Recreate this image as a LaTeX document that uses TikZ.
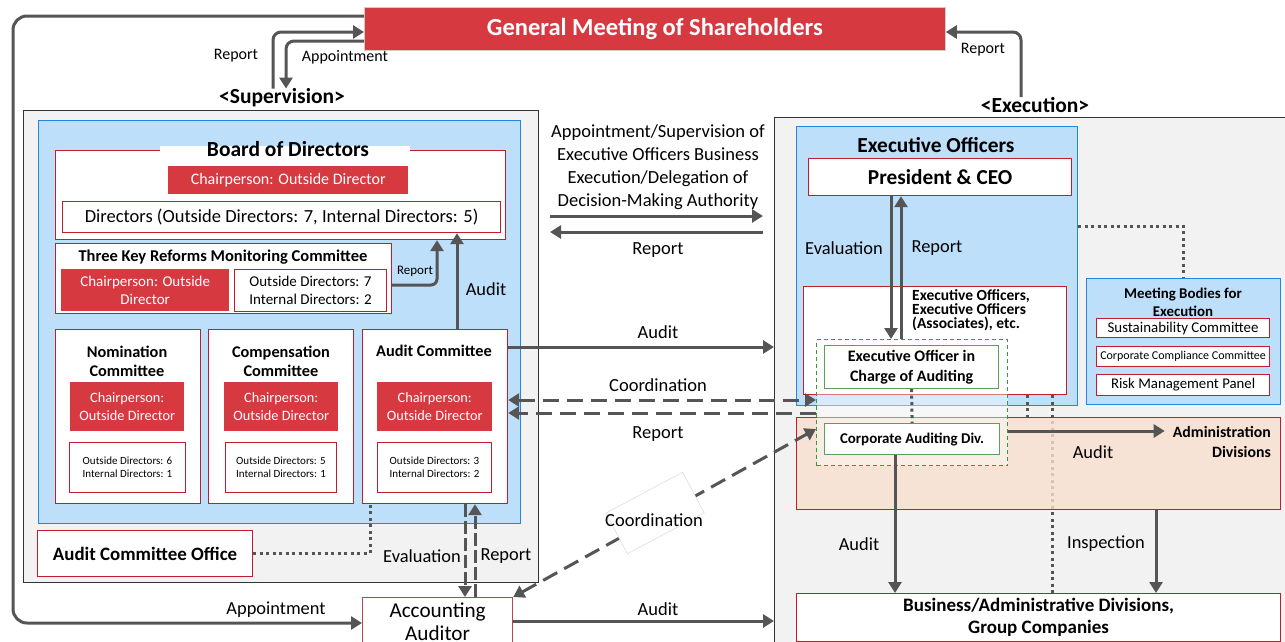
\documentclass[tikz,border=0pt]{standalone}
\usepackage{fontspec}
\setmainfont{Carlito}
\usetikzlibrary{arrows.meta}

\definecolor{gmred}{RGB}{214,57,64}
\definecolor{redline}{RGB}{192,30,45}
\definecolor{aaline}{RGB}{180,70,80}
\definecolor{bluefill}{RGB}{189,223,250}
\definecolor{blueline}{RGB}{35,135,225}
\definecolor{panelgray}{RGB}{242,242,242}
\definecolor{peach}{RGB}{249,223,207}
\definecolor{arrgray}{RGB}{85,85,85}
\definecolor{grnline}{RGB}{90,160,90}
\definecolor{grndash}{RGB}{60,150,60}

% font size with explicit leading
\newcommand{\fsz}[2]{\fontsize{#1}{#2}\selectfont}
% rectangle node given by its corners: \bx[style]{name}{x1}{y1}{x2}{y2}{text}
\newcommand{\bx}[7][]{\node[#1, anchor=north west, minimum width=#5pt-#3pt, minimum height=#6pt-#4pt] (#2) at (#3,#4) {#7};}

\tikzset{
  panel/.style={fill=panelgray, draw=black!80, line width=1.3pt},
  bluebox/.style={fill=bluefill, draw=blueline, line width=1.2pt},
  redbox/.style={fill=gmred, draw=none, text=white, align=center, inner sep=0pt},
  gmbox/.style={fill=gmred, draw=black!20, line width=0.8pt, text=white, align=center, inner sep=0pt},
  wbox/.style={fill=white, draw=redline, line width=1.2pt, align=center, inner sep=0pt},
  gbox/.style={fill=white, draw=grnline, line width=1.2pt, align=center, inner sep=0pt},
  peachbox/.style={fill=peach, fill opacity=0.8, draw=redline, line width=1.2pt},
  gdash/.style={fill=white, fill opacity=0.4, draw=grndash, line width=1.2pt, dash pattern=on 4pt off 3pt},
  lab/.style={inner sep=0pt, text=black, align=center},
  arr/.style={draw=arrgray, line width=3pt, rounded corners=8pt, -{Triangle[length=11pt,width=13pt]}},
  darr/.style={arr, dash pattern=on 16pt off 8pt},
  earr/.style={arr, dash pattern=on 13pt off 4pt},
  dots/.style={draw=arrgray, line width=3pt, dash pattern=on 3pt off 3.5pt},
}

\begin{document}
\begin{tikzpicture}[x=1pt,y=-1pt]
\useasboundingbox (0,0) rectangle (1285,641);
\clip (0,0) rectangle (1285,641);
\fill[white] (0,0) rectangle (1285,641);

% ---------- panels and headings ----------
\bx[panel]{sup}{23}{110}{538}{582}{}
\bx[panel]{exe}{774}{117}{1300}{660}{}
\node[lab, font=\fsz{21.5}{24}\bfseries] (suplab) at (282,98) {<Supervision>};
\node[lab, font=\fsz{21.5}{24}\bfseries] (exelab) at (1035,105) {<Execution>};
\bx[gmbox, font=\fsz{24.5}{28}\bfseries]{gm}{364}{7}{945}{50}{General Meeting of Shareholders}

% ---------- supervision side ----------
\bx[bluebox]{supblue}{38}{120}{520}{523}{}
\bx[wbox]{board}{55}{150}{505}{239}{}
\node[fill=white, inner sep=0pt, minimum width=250pt, minimum height=6pt] (boardgap) at (285,149) {};
\node[lab, font=\fsz{21.5}{24}\bfseries] (boardt) at (288,149) {Board of Directors};
\bx[redbox, font=\fsz{16}{19}]{bchair}{168}{166}{408}{194}{Chairperson: Outside Director}
\bx[wbox, font=\fsz{18.5}{21}]{bdirs}{62}{201}{500}{232}{Directors (Outside Directors: 7, Internal Directors: 5)}

\bx[wbox]{tkr}{55}{243}{391}{313}{}
\node[lab, font=\fsz{16.5}{19}\bfseries] (tkrt) at (223,257) {Three Key Reforms Monitoring Committee};
\bx[redbox, font=\fsz{15}{18}]{tkrchair}{61}{269}{229}{311}{Chairperson: Outside\\Director}
\bx[wbox, line width=1pt, font=\fsz{15}{18}]{tkrmem}{234}{269}{386}{311}{Outside Directors: 7\\Internal Directors: 2}

\bx[wbox]{nom}{55}{329}{200}{503}{}
\node[lab, font=\fsz{16.3}{19}\bfseries] (nomt) at (127,361) {Nomination\\Committee};
\bx[redbox, font=\fsz{14.3}{18}]{nomchair}{70}{382}{184}{431}{Chairperson:\\Outside Director}
\bx[wbox, line width=1pt, font=\fsz{11}{13}]{nommem}{69}{442}{185}{492}{Outside Directors: 6\\Internal Directors: 1}

\bx[wbox]{comp}{208}{329}{353}{503}{}
\node[lab, font=\fsz{16.3}{19}\bfseries] (compt) at (281,361) {Compensation\\Committee};
\bx[redbox, font=\fsz{14.3}{18}]{compchair}{224}{382}{338}{431}{Chairperson:\\Outside Director}
\bx[wbox, line width=1pt, font=\fsz{11}{13}]{compmem}{225}{442}{336}{492}{Outside Directors: 5\\Internal Directors: 1}

\bx[wbox]{aud}{362}{329}{507}{503}{}
\node[lab, font=\fsz{16.3}{19}\bfseries] (audt) at (434,351) {Audit Committee};
\bx[redbox, font=\fsz{14.3}{18}]{audchair}{377}{382}{492}{431}{Chairperson:\\Outside Director}
\bx[wbox, line width=1pt, font=\fsz{11}{13}]{audmem}{377}{442}{491}{492}{Outside Directors: 3\\Internal Directors: 2}

\bx[wbox, font=\fsz{18.9}{22}\bfseries]{aco}{37}{530}{252}{576}{Audit Committee Office}
\bx[wbox, draw=aaline, font=\fsz{21.2}{23.5}]{aa}{362}{597}{512}{645}{Accounting\\Auditor}

% ---------- execution side ----------
\bx[bluebox]{eo}{796}{126}{1077}{405}{}
\node[lab, font=\fsz{21.4}{24}\bfseries] (eot) at (936,145) {Executive Officers};
\bx[wbox, font=\fsz{21.3}{24}\bfseries]{ceo}{808}{158}{1071}{195}{President \& CEO}
\bx[wbox]{eoetc}{803}{286}{1066}{394}{}
\node[lab, align=left, anchor=west, font=\fsz{15.5}{14}\bfseries] (eoetct) at (912,310) {Executive Officers,\\Executive Officers\\(Associates), etc.};

\bx[bluebox]{mb}{1086}{278}{1280}{404}{}
\node[lab, font=\fsz{14.9}{18}\bfseries] (mbt) at (1183,302) {Meeting Bodies for\\Execution};
\bx[wbox, font=\fsz{14.9}{17}]{sus}{1096}{318}{1269}{337}{Sustainability Committee}
\bx[wbox, font=\fsz{12}{14}]{ccc}{1096}{346}{1269}{366}{Corporate Compliance Committee}
\bx[wbox, font=\fsz{14.8}{17}]{risk}{1096}{374}{1269}{395}{Risk Management Panel}

% dotted links (drawn before the translucent divisions box)
\coordinate (admtopL) at (1027,417);
\coordinate (biztopD) at (1052,593);
\draw[dots] (eo.east |- 0,226) -| (mb.north);
\draw[dots] (eoetc.south -| admtopL) -- (admtopL);
\draw[dots] (eoetc.south -| biztopD) -- (biztopD);

\bx[peachbox]{adm}{796}{417}{1280}{509}{}
\node[lab, align=right, anchor=east, font=\fsz{15.8}{20}\bfseries] (admt) at (1271,442) {Administration\\Divisions};

\bx[gdash]{audgrp}{816}{339}{1007}{465}{}
\bx[gbox, font=\fsz{16}{20}\bfseries]{eoaud}{824}{345}{998}{388}{Executive Officer in\\Charge of Auditing}
\bx[gbox, font=\fsz{14.9}{17}\bfseries]{cad}{824}{423}{999}{454}{Corporate Auditing Div.}
\draw[dots] (eoaud.south) -- (cad.north);

\bx[wbox, font=\fsz{19}{22}\bfseries]{biz}{796}{593}{1280}{641}{Business/Administrative Divisions,\\Group Companies}

% ---------- connectors ----------
% shareholders' meeting
\draw[arr, rounded corners=14pt] (gm.west |- 0,16) -- (13,16) -- (13,623) -- (aa.west |- 0,623);
\draw[arr] (273,0 |- suplab.north) |- (gm.west |- 0,32);
\draw[arr] (gm.west |- 0,41) -| (286,0 |- suplab.north);
\draw[arr] (1021,0 |- exelab.north) |- (gm.east |- 0,32);
\node[lab, font=\fsz{16}{19}] (lrep1) at (236,56) {Report};
\node[lab, font=\fsz{16}{19}] (lapp1) at (345,57) {Appointment};
\node[lab, font=\fsz{16}{19}] (lrep2) at (983,50) {Report};

% inside the board
\draw[arr, rounded corners=6pt] (tkr.east |- 0,285) -| (437,0 |- board.south);
\node[lab, font=\fsz{13}{15}] (lrep3) at (415,271) {Report};
\draw[arr] (aud.north -| 457,0) -- (457,0 |- bdirs.south);
\node[lab, font=\fsz{18.4}{21}] (laud1) at (486,289) {Audit};

% audit committee office and accounting auditor
\draw[dots] (aco.east) -| (aud.south -| 370,0);
\draw[earr] (aud.south -| 465,0) -- (465,0 |- aa.north);
\draw[earr] (475,0 |- aa.north) -- (aud.south -| 475,0);
\node[lab, font=\fsz{18.4}{21}] (leval1) at (422,556) {Evaluation};
\node[lab, font=\fsz{18.4}{21}] (lrep4) at (506,556) {Report};
\node[lab, font=\fsz{18.4}{21}] (lapp2) at (276,610) {Appointment};

% supervision <-> execution
\coordinate (delL) at (550,216);
\coordinate (delR) at (763,216);
\draw[arr] (delL) -- (delR);
\draw[arr] (delR |- 0,232) -- (delL |- 0,232);
\node[lab, font=\fsz{18.5}{23}] (ldel) at (658,167.5) {Appointment/Supervision of\\Executive Officers Business\\Execution/Delegation of\\Decision-Making Authority};
\node[lab, font=\fsz{18.5}{21}] (lrep5) at (658,250) {Report};

\draw[arr] (aud.east |- 0,347) -- (exe.west |- 0,347);
\node[lab, font=\fsz{18.5}{21}] (laud2) at (658,332) {Audit};
\draw[darr, {Triangle[length=11pt,width=13pt]}-{Triangle[length=11pt,width=13pt]}] (aud.east |- 0,400) -- (audgrp.west |- 0,400);
\node[lab, font=\fsz{18.5}{21}] (lcoo1) at (658,385) {Coordination};
\draw[darr] (audgrp.west |- 0,413) -- (aud.east |- 0,413);
\node[lab, font=\fsz{18.5}{21}] (lrep6) at (658,434) {Report};

\draw[darr, {Triangle[length=11pt,width=13pt]}-{Triangle[length=11pt,width=13pt]}] (aa.north east) -- (audgrp.west |- 0,429);
\node[draw=black!15, line width=0.5pt, fill=white, rotate=28, minimum width=87pt, minimum height=46pt] (coordbox) at (655,513) {};
\node[lab, font=\fsz{18.5}{21}] (lcoo2) at (654,520) {Coordination};

\draw[arr] (aa.east |- 0,621) -- (exe.west |- 0,621);
\node[lab, font=\fsz{18.5}{21}] (laud3) at (658,609) {Audit};

% execution side
\draw[arr] (ceo.south -| 891,0) -- (891,0 |- audgrp.north);
\draw[arr] (901,0 |- audgrp.north) -- (ceo.south -| 901,0);
\node[lab, font=\fsz{18.4}{21}] (leval2) at (844,248) {Evaluation};
\node[lab, font=\fsz{18.4}{21}] (lrep7) at (937,248) {Report};

\draw[arr, shorten >=8pt] (audgrp.east |- 0,431) -- (admt.west |- 0,431);
\node[lab, font=\fsz{18.4}{21}] (laud4) at (1093,452) {Audit};
\draw[arr] (cad.south -| 895,0) -- (895,0 |- biz.north);
\node[lab, font=\fsz{18.4}{21}] (laud5) at (859,544) {Audit};
\draw[arr] (adm.south -| 1156,0) -- (1156,0 |- biz.north);
\node[lab, font=\fsz{18.4}{21}] (linsp) at (1106,544) {Inspection};
\end{tikzpicture}
\end{document}
